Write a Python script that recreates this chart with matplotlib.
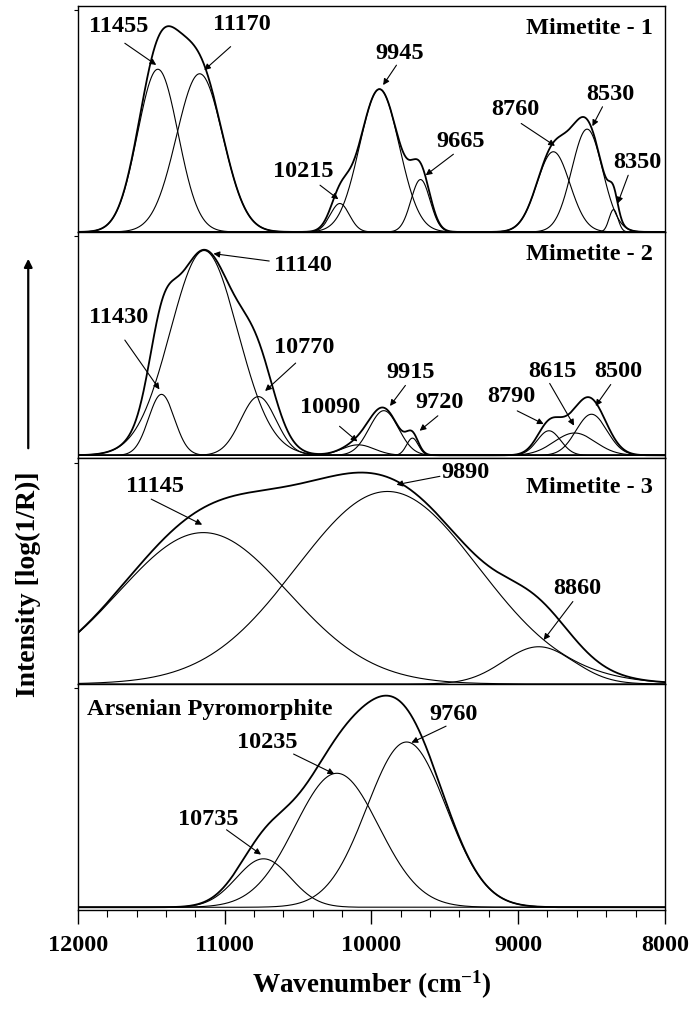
import matplotlib
matplotlib.use("Agg")
import matplotlib.pyplot as plt
import numpy as np
from matplotlib.patches import FancyArrowPatch

plt.rcParams["font.family"] = ["Liberation Serif", "DejaVu Serif"]
plt.rcParams["font.weight"] = "bold"
plt.rcParams["mathtext.fontset"] = "custom"
plt.rcParams["mathtext.rm"] = "Liberation Serif:bold"
plt.rcParams["mathtext.bf"] = "Liberation Serif:bold"
plt.rcParams["mathtext.default"] = "bf"

# band centres (cm-1), heights (fraction of panel) and gaussian widths (cm-1)
m1_centers = [11455, 11170, 10215, 9945, 9665, 8760, 8530, 8350]
m1_heights = [0.72, 0.70, 0.126, 0.632, 0.232, 0.355, 0.455, 0.099]
m1_widths = [138, 158, 65, 135, 65, 112, 105, 30]

m2_centers = [11430, 11140, 10770, 10090, 9915, 9720, 8790, 8615, 8500]
m2_heights = [0.273, 0.917, 0.263, 0.047, 0.20, 0.077, 0.11, 0.10, 0.184]
m2_widths = [88, 230, 120, 110, 100, 40, 80, 140, 105]

m3_centers = [11145, 9890, 8860]
m3_heights = [0.67, 0.852, 0.165]
m3_widths = [578, 620, 240]

ap_centers = [10735, 10235, 9760]
ap_heights = [0.217, 0.60, 0.74]
ap_widths = [185, 285, 270]

panel_names = ["Mimetite - 1", "Mimetite - 2", "Mimetite - 3", "Arsenian Pyromorphite"]
x_ticks = [12000, 11000, 10000, 9000, 8000]

# label placement: text (x, y), arrow start (x, y), arrow tip (x, y)
m1_notes = {
    11455: ((11721, 0.911), (11680, 0.835), (11466, 0.739)),
    11170: ((10884, 0.916), (10959, 0.820), (11139, 0.716)),
    9945: ((9804, 0.790), (9829, 0.738), (9920, 0.650)),
    10215: ((10461, 0.269), (10350, 0.207), (10225, 0.145)),
    9665: ((9394, 0.399), (9441, 0.344), (9630, 0.251)),
    8760: ((9020, 0.542), (8979, 0.480), (8749, 0.381)),
    8530: ((8369, 0.609), (8425, 0.554), (8494, 0.468)),
    8350: ((8189, 0.307), (8250, 0.251), (8322, 0.126)),
}
m2_notes = {
    11140: ((10466, 0.848), (10696, 0.870), (11076, 0.903)),
    11430: ((11721, 0.617), (11680, 0.516), (11444, 0.295)),
    10770: ((10461, 0.482), (10516, 0.413), (10724, 0.288)),
    9915: ((9735, 0.369), (9768, 0.313), (9873, 0.221)),
    10090: ((10281, 0.214), (10217, 0.130), (10095, 0.062)),
    9720: ((9533, 0.236), (9547, 0.177), (9671, 0.110)),
    8790: ((9043, 0.263), (9006, 0.199), (8826, 0.140)),
    8615: ((8765, 0.376), (8785, 0.322), (8619, 0.133)),
    8500: ((8319, 0.376), (8369, 0.317), (8472, 0.221)),
}
m3_notes = {
    11145: ((11477, 0.874), (11500, 0.818), (11153, 0.705)),
    9890: ((9358, 0.936), (9533, 0.919), (9829, 0.882)),
    8860: ((8599, 0.424), (8627, 0.365), (8826, 0.195)),
}
ap_notes = {
    9760: ((9441, 0.863), (9491, 0.811), (9727, 0.737)),
    10235: ((10710, 0.740), (10530, 0.686), (10253, 0.597)),
    10735: ((11112, 0.391), (10987, 0.347), (10752, 0.236)),
}


def gauss(x, c, h, w):
    return h * np.exp(-0.5 * ((x - c) / w) ** 2)


wn = np.linspace(8000, 12000, 2001)

fig = plt.figure(figsize=(6.89, 10.26), dpi=100)
left, width = 0.113, 0.852
bottoms = [0.7739, 0.5536, 0.3333, 0.1131]
height = 0.2203

panels = [
    (m1_centers, m1_heights, m1_widths, m1_notes, 0.0),
    (m2_centers, m2_heights, m2_widths, m2_notes, -0.012),
    (m3_centers, m3_heights, m3_widths, m3_notes, 0.0),
    (ap_centers, ap_heights, ap_widths, ap_notes, -0.012),
]

fs = 17.5
axes = []
for i, (cs, hs, ws, notes, ymin) in enumerate(panels):
    ax = fig.add_axes([left, bottoms[i], width, height])
    axes.append(ax)
    total = np.zeros_like(wn)
    for c, h, w in zip(cs, hs, ws):
        comp = gauss(wn, c, h, w)
        total += comp
        ax.plot(wn, comp, color="black", lw=0.8)
    ax.plot(wn, total, color="black", lw=1.3)

    for c, (txt, start, tip) in notes.items():
        ax.text(txt[0], txt[1], str(c), ha="center", va="center",
                fontsize=fs, fontweight="bold")
        ax.annotate("", xy=tip, xytext=start,
                    arrowprops=dict(arrowstyle="-|>", color="black", lw=0.8,
                                    mutation_scale=9, shrinkA=0, shrinkB=0))

    if i < 3:
        ax.text(0.979, 0.90 if i < 2 else 0.87, panel_names[i], transform=ax.transAxes,
                ha="right", va="center", fontsize=fs, fontweight="bold")
    else:
        ax.text(0.016, 0.888, panel_names[i], transform=ax.transAxes,
                ha="left", va="center", fontsize=fs, fontweight="bold")

    ax.set_xlim(12000, 8000)
    ax.set_ylim(ymin, 1.0)
    ax.set_yticks([0.98 * (1.0 - ymin) + ymin])
    ax.set_yticklabels([])
    ax.tick_params(axis="y", direction="out", length=3, width=0.8)
    for sp in ax.spines.values():
        sp.set_linewidth(1.0)
        sp.set_color("black")

    if i < 3:
        ax.set_xticks([])
    else:
        ax.set_xticks(x_ticks)
        ax.set_xticks(np.arange(8000, 12001, 200), minor=True)
        ax.set_xticklabels([str(t) for t in x_ticks], fontsize=fs, fontweight="bold")
        ax.tick_params(axis="x", which="major", direction="out", length=10, width=1.0, pad=8)
        ax.tick_params(axis="x", which="minor", direction="out", length=5, width=0.8)

fig.text(0.539, 0.040, r"Wavenumber (cm$^{-1}$)", ha="center", va="center",
         fontsize=19.5, fontweight="bold")
fig.text(0.041, 0.4303, "Intensity [log(1/R)]", rotation=90, ha="center", va="center",
         fontsize=20, fontweight="bold")
fig.add_artist(FancyArrowPatch((0.041, 0.5604), (0.041, 0.7505), transform=fig.transFigure,
                               arrowstyle="-|>", mutation_scale=12, lw=1.6, color="black"))

fig.savefig("out.png", dpi=100)
